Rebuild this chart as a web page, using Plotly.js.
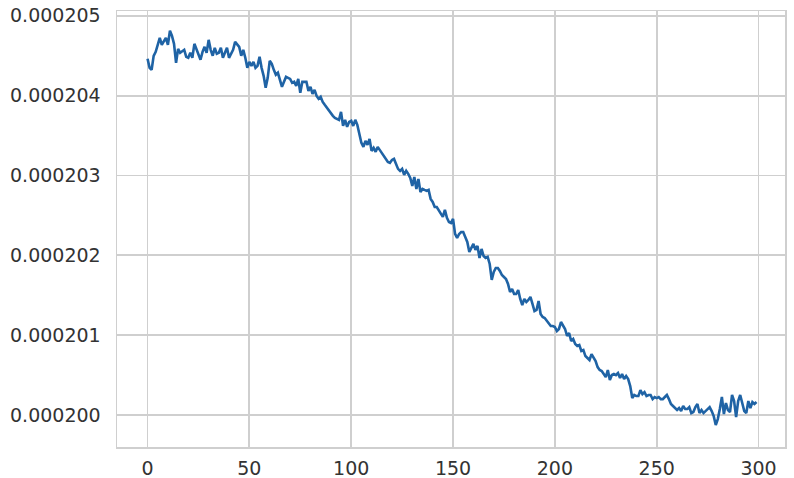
<!DOCTYPE html>
<html>
<head>
<meta charset="utf-8">
<script src="https://cdn.plot.ly/plotly-3.0.1.min.js"></script>
<style>html,body{margin:0;padding:0;background:#fff;}#chart{width:794px;height:478px;}</style>
</head>
<body>
<div id="chart"></div>
<script>
// Series values (index 0..299)
const values = [
2.04461e-4,2.04348e-4,2.04323e-4,2.04499e-4,2.04549e-4,2.04624e-4,2.04724e-4,2.04637e-4,2.04674e-4,2.04724e-4,
2.04637e-4,2.04812e-4,2.04749e-4,2.04649e-4,2.04411e-4,2.04586e-4,2.04536e-4,2.04561e-4,2.04574e-4,2.04486e-4,
2.04474e-4,2.04536e-4,2.04474e-4,2.04649e-4,2.04586e-4,2.04524e-4,2.04449e-4,2.04549e-4,2.04611e-4,2.04536e-4,
2.04699e-4,2.04574e-4,2.04499e-4,2.04599e-4,2.04524e-4,2.04536e-4,2.04599e-4,2.04474e-4,2.04549e-4,2.04599e-4,
2.04474e-4,2.04536e-4,2.04574e-4,2.04674e-4,2.04649e-4,2.04611e-4,2.04499e-4,2.04574e-4,2.04474e-4,2.04348e-4,
2.04423e-4,2.04373e-4,2.04423e-4,2.04348e-4,2.04373e-4,2.04486e-4,2.04348e-4,2.04248e-4,2.04098e-4,2.04223e-4,
2.04436e-4,2.04398e-4,2.04323e-4,2.04261e-4,2.04286e-4,2.04198e-4,2.04110e-4,2.04173e-4,2.04235e-4,2.04223e-4,
2.04210e-4,2.04160e-4,2.04173e-4,2.04123e-4,2.04210e-4,2.04035e-4,2.04173e-4,2.04173e-4,2.04173e-4,2.04060e-4,
2.04110e-4,2.04022e-4,2.04073e-4,2.03997e-4,2.03960e-4,2.03985e-4,2.03922e-4,2.03885e-4,2.03847e-4,2.03809e-4,
2.03784e-4,2.03747e-4,2.03722e-4,2.03709e-4,2.03697e-4,2.03797e-4,2.03621e-4,2.03697e-4,2.03609e-4,2.03672e-4,
2.03684e-4,2.03621e-4,2.03697e-4,2.03634e-4,2.03509e-4,2.03408e-4,2.03358e-4,2.03433e-4,2.03383e-4,2.03459e-4,
2.03308e-4,2.03346e-4,2.03296e-4,2.03358e-4,2.03321e-4,2.03283e-4,2.03246e-4,2.03208e-4,2.03170e-4,2.03158e-4,
2.03195e-4,2.03208e-4,2.03133e-4,2.03083e-4,2.03058e-4,2.03083e-4,2.03007e-4,2.03058e-4,2.03020e-4,2.02970e-4,
2.02870e-4,2.02982e-4,2.02832e-4,2.02957e-4,2.02794e-4,2.02832e-4,2.02819e-4,2.02807e-4,2.02819e-4,2.02707e-4,
2.02669e-4,2.02606e-4,2.02606e-4,2.02569e-4,2.02531e-4,2.02481e-4,2.02569e-4,2.02469e-4,2.02418e-4,2.02406e-4,
2.02456e-4,2.02268e-4,2.02218e-4,2.02268e-4,2.02293e-4,2.02293e-4,2.02231e-4,2.02168e-4,2.02043e-4,2.02105e-4,
2.02143e-4,2.02068e-4,2.02118e-4,2.01967e-4,2.02080e-4,2.01992e-4,2.01967e-4,2.01980e-4,2.01892e-4,2.01692e-4,
2.01792e-4,2.01842e-4,2.01842e-4,2.01805e-4,2.01754e-4,2.01729e-4,2.01704e-4,2.01642e-4,2.01541e-4,2.01579e-4,
2.01516e-4,2.01516e-4,2.01566e-4,2.01454e-4,2.01378e-4,2.01454e-4,2.01416e-4,2.01441e-4,2.01479e-4,2.01391e-4,
2.01303e-4,2.01316e-4,2.01429e-4,2.01266e-4,2.01228e-4,2.01216e-4,2.01178e-4,2.01140e-4,2.01115e-4,2.01115e-4,
2.01103e-4,2.01053e-4,2.01078e-4,2.01165e-4,2.01115e-4,2.01078e-4,2.00990e-4,2.01028e-4,2.00927e-4,2.00952e-4,
2.00890e-4,2.00865e-4,2.00877e-4,2.00802e-4,2.00815e-4,2.00739e-4,2.00714e-4,2.00689e-4,2.00764e-4,2.00727e-4,
2.00677e-4,2.00601e-4,2.00564e-4,2.00551e-4,2.00514e-4,2.00476e-4,2.00564e-4,2.00439e-4,2.00501e-4,2.00514e-4,
2.00501e-4,2.00526e-4,2.00464e-4,2.00514e-4,2.00451e-4,2.00489e-4,2.00451e-4,2.00363e-4,2.00213e-4,2.00251e-4,
2.00238e-4,2.00238e-4,2.00313e-4,2.00263e-4,2.00288e-4,2.00238e-4,2.00251e-4,2.00251e-4,2.00200e-4,2.00226e-4,
2.00213e-4,2.00226e-4,2.00200e-4,2.00200e-4,2.00226e-4,2.00251e-4,2.00200e-4,2.00138e-4,2.00113e-4,2.00088e-4,
2.00063e-4,2.00088e-4,2.00050e-4,2.00113e-4,2.00075e-4,2.00075e-4,2.00100e-4,2.00025e-4,2.00038e-4,2.00100e-4,
2.00138e-4,2.00025e-4,2.00063e-4,2.00025e-4,2.00050e-4,2.00075e-4,2.00100e-4,2.00050e-4,1.99987e-4,1.99875e-4,
1.99950e-4,2.00075e-4,2.00226e-4,2.00013e-4,2.00150e-4,2.00063e-4,2.00038e-4,2.00251e-4,2.00175e-4,1.99975e-4,
2.00175e-4,2.00251e-4,2.00150e-4,2.00050e-4,2.00025e-4,2.00175e-4,2.00088e-4,2.00163e-4,2.00138e-4,2.00163e-4
];
const xIndex = values.map((v, i) => i);
const xTicks = [0, 50, 100, 150, 200, 250, 300];
const yTicks = [0.000200, 0.000201, 0.000202, 0.000203, 0.000204, 0.000205];
const yTickLabels = ["0.000200", "0.000201", "0.000202", "0.000203", "0.000204", "0.000205"];

const trace = {
  x: xIndex,
  y: values,
  type: 'scatter',
  mode: 'lines',
  line: {color: '#1f63a5', width: 2.6},
  hoverinfo: 'none'
};

const axisCommon = {
  showgrid: true,
  gridcolor: '#cfcfcf',
  gridwidth: 1.8,
  zeroline: false,
  showline: true,
  linecolor: '#cfcfcf',
  linewidth: 1.5,
  mirror: true,
  ticks: '',
  tickfont: {family: 'DejaVu Sans', size: 19, color: '#333333'}
};

const layout = {
  width: 794,
  height: 478,
  margin: {l: 117, r: 9, t: 11, b: 31, pad: 0},
  paper_bgcolor: '#ffffff',
  plot_bgcolor: '#ffffff',
  showlegend: false,
  xaxis: Object.assign({}, axisCommon, {
    range: [-15, 313],
    tickmode: 'array',
    tickvals: xTicks,
    ticktext: xTicks.map(String),
    ticklabelstandoff: 4
  }),
  yaxis: Object.assign({}, axisCommon, {
    range: [0.00019960, 0.00020506],
    tickmode: 'array',
    tickvals: yTicks,
    ticktext: yTickLabels,
    ticklabelstandoff: 11
  })
};

Plotly.newPlot('chart', [trace], layout, {displayModeBar: false, staticPlot: true});
</script>
</body>
</html>
